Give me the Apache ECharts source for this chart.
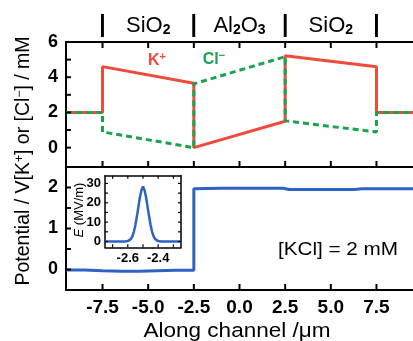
<!DOCTYPE html>
<html>
<head>
<meta charset="utf-8">
<script src="https://cdn.jsdelivr.net/npm/echarts@6/dist/echarts.min.js"></script>
<style>
  html, body { margin: 0; padding: 0; background: #fff; }
  #chart { width: 413px; height: 341px; }
</style>
</head>
<body>
<div id="chart"></div>
<script>
// Ion concentrations along the channel (mM)
const kX = [-9.5, -7.5, -7.5, -2.5, -2.5, 2.5, 2.5, 7.5, 7.5, 9.5];
const kConc = [2, 2, 4.6, 3.66, 0, 1.5, 5.22, 4.6, 2, 2];
const clX = [-9.5, -7.5, -7.5, -2.5, -2.5, 2.5, 2.5, 7.5, 7.5, 9.5];
const clConc = [2, 2, 0.89, 0.0, 3.62, 5.17, 1.52, 0.89, 2, 2];

// Electric potential along the channel (V)
const potX = [-9.5, -8.5, -7.5, -6.5, -5.5, -4.5, -3.5, -2.5, -2.5, -1, 0, 1, 2.4, 2.7, 4, 5.5, 6.3, 6.7, 8, 9.5];
const potV = [-0.01, -0.01, -0.03, -0.04, -0.04, -0.03, -0.02, -0.02, 1.97, 1.98, 1.98, 1.98, 1.98, 1.95, 1.95, 1.95, 1.95, 1.97, 1.97, 1.97];

// Field strength near the SiO2/Al2O3 interface (MV/m)
const eX = [-2.75, -2.62, -2.6, -2.59, -2.58, -2.57, -2.56, -2.55, -2.54, -2.53, -2.52, -2.51, -2.5,
            -2.49, -2.48, -2.47, -2.46, -2.45, -2.44, -2.43, -2.42, -2.41, -2.4, -2.38, -2.25];
const eVal = [0, 0, 0.2, 0.5, 1.2, 2.6, 5, 8.5, 13, 18, 23, 26.5, 28.5,
              26.5, 23, 18, 13, 8.5, 5, 2.6, 1.2, 0.5, 0.2, 0, 0];

// Axis ticks and labels
const xTicks = [-7.5, -5.0, -2.5, 0.0, 2.5, 5.0, 7.5];
const concTicks = [0, 1, 2, 3, 4, 5];
const concLabels = [0, 2, 4, 6];
const potTicks = [0, 0.5, 1, 1.5, 2];
const potLabels = [0, 1, 2];
const eTicks = [0, 5, 10, 15, 20, 25, 30];
const eLabels = [0, 10, 20, 30];
const insetXTicks = [-2.7, -2.6, -2.5, -2.4, -2.3];
const insetXLabels = [-2.6, -2.4];

// Layer labels along the top of the channel
const regionAt = [-7.5, -5.0, -2.5, 0.0, 2.5, 5.0, 7.5];
const regionNames = ['{bar||}', 'SiO{s|2}', '{bar||}', 'Al{s|2}O{s|3}', '{bar||}', 'SiO{s|2}', '{bar||}'];

// Axis ranges
const X_MIN = -9.5, X_MAX = 9.5;
const C_MIN = -1.1, C_MAX = 6;
const P_MIN = -0.5, P_MAX = 2.5;
const IX_MIN = -2.75, IX_MAX = -2.25;
const E_MIN = -3, E_MAX = 34;

const FONT = 'Liberation Sans, Arial, Helvetica, sans-serif';
const RED = '#ee4b3c';
const GREEN = '#1ba24c';
const BLUE = '#2f62c2';

const pairs = (xs, ys) => xs.map((x, i) => [x, ys[i]]);

const frameLine = { show: true, onZero: false, lineStyle: { color: '#000', width: 2 } };
const thinLine = { show: true, onZero: false, lineStyle: { color: '#000', width: 1.5 } };

// Inward tick marks drawn on an axis edge through the cartesian coordinates
function tickSeries(xi, yi, values, edge, dir, len, width) {
  const vertical = dir === 'up' || dir === 'down';
  return {
    type: 'custom', xAxisIndex: xi, yAxisIndex: yi, silent: true, clip: false, z: 10,
    data: values.map(v => vertical ? [v, edge] : [edge, v]),
    renderItem: (params, api) => {
      const p = api.coord([api.value(0), api.value(1)]);
      let dx = 0, dy = 0;
      if (dir === 'up') dy = -len;
      if (dir === 'down') dy = len;
      if (dir === 'right') dx = len;
      if (dir === 'left') dx = -len;
      return {
        type: 'line',
        shape: { x1: p[0], y1: p[1], x2: p[0] + dx, y2: p[1] + dy },
        style: { stroke: '#000', lineWidth: width }
      };
    }
  };
}

function xAxisCfg(gridIndex, position, opts) {
  return Object.assign({
    type: 'value', gridIndex, position, min: X_MIN, max: X_MAX,
    axisLine: frameLine,
    axisTick: { show: false },
    axisLabel: { show: false },
    splitLine: { show: false }
  }, opts || {});
}

const chart = echarts.init(document.getElementById('chart'), null, { renderer: 'canvas' });

chart.setOption({
  animation: false,
  backgroundColor: '#fff',
  grid: [
    { left: 66, top: 42, width: 354.7, height: 125 },
    { left: 66, top: 167, width: 354.7, height: 123 },
    { left: 105, top: 175.7, width: 76, height: 71.6, show: true, backgroundColor: '#fff', borderWidth: 0 }
  ],
  xAxis: [
    xAxisCfg(0, 'bottom'),
    xAxisCfg(0, 'top', {
      axisLabel: {
        show: true, customValues: regionAt, margin: 5,
        formatter: v => regionNames[regionAt.findIndex(r => Math.abs(r - v) < 1e-6)] || '',
        fontFamily: FONT, fontSize: 22, color: '#000',
        rich: {
          s: { fontFamily: FONT, fontSize: 14, fontWeight: 'bold', color: '#000', verticalAlign: 'bottom', padding: [7, 0, 0, 0] },
          bar: { fontFamily: FONT, fontSize: 23, fontWeight: 'bold', color: '#000' }
        }
      }
    }),
    xAxisCfg(1, 'bottom', {
      axisLabel: {
        show: true, customValues: xTicks, margin: 8,
        formatter: v => v.toFixed(1),
        fontFamily: FONT, fontSize: 19, fontWeight: 'bold', color: '#000'
      }
    }),
    xAxisCfg(1, 'top'),
    {
      type: 'value', gridIndex: 2, position: 'bottom', min: IX_MIN, max: IX_MAX,
      axisLine: thinLine,
      axisTick: { show: false },
      axisLabel: {
        show: true, customValues: insetXLabels, margin: 5,
        formatter: v => v.toFixed(1),
        fontFamily: FONT, fontSize: 13, fontWeight: 'bold', color: '#000'
      },
      splitLine: { show: false }
    },
    {
      type: 'value', gridIndex: 2, position: 'top', min: IX_MIN, max: IX_MAX,
      axisLine: thinLine, axisTick: { show: false }, axisLabel: { show: false },
      splitLine: { show: false }
    }
  ],
  yAxis: [
    {
      type: 'value', gridIndex: 0, min: C_MIN, max: C_MAX,
      axisLine: frameLine, axisTick: { show: false },
      axisLabel: { customValues: concLabels, margin: 8, fontFamily: FONT, fontSize: 18, fontWeight: 'bold', color: '#000' },
      splitLine: { show: false }
    },
    {
      type: 'value', gridIndex: 1, min: P_MIN, max: P_MAX,
      axisLine: frameLine, axisTick: { show: false },
      axisLabel: { customValues: potLabels, margin: 8, fontFamily: FONT, fontSize: 18, fontWeight: 'bold', color: '#000' },
      splitLine: { show: false }
    },
    {
      type: 'value', gridIndex: 2, min: E_MIN, max: E_MAX,
      axisLine: thinLine, axisTick: { show: false },
      axisLabel: { customValues: eLabels, margin: 4, fontFamily: FONT, fontSize: 13, fontWeight: 'bold', color: '#000' },
      splitLine: { show: false }
    },
    {
      type: 'value', gridIndex: 2, position: 'right', min: E_MIN, max: E_MAX,
      axisLine: thinLine, axisTick: { show: false }, axisLabel: { show: false },
      splitLine: { show: false }
    }
  ],
  series: [
    {
      name: 'K+', type: 'line', xAxisIndex: 0, yAxisIndex: 0,
      data: pairs(kX, kConc), showSymbol: false, symbol: 'none',
      lineStyle: { color: RED, width: 3 }, z: 3
    },
    {
      name: 'Cl-', type: 'line', xAxisIndex: 0, yAxisIndex: 0,
      data: pairs(clX, clConc), showSymbol: false, symbol: 'none',
      lineStyle: { color: GREEN, width: 3, type: [6, 4] }, z: 4
    },
    {
      name: 'Potential', type: 'line', xAxisIndex: 2, yAxisIndex: 1,
      data: pairs(potX, potV), showSymbol: false, symbol: 'none',
      lineStyle: { color: BLUE, width: 3 }, z: 3
    },
    {
      name: 'E', type: 'line', xAxisIndex: 4, yAxisIndex: 2,
      data: pairs(eX, eVal), showSymbol: false, symbol: 'none',
      lineStyle: { color: BLUE, width: 2.5 }, z: 5
    },
    // frame ticks of the concentration panel
    tickSeries(0, 0, xTicks, C_MAX, 'down', 6, 2),
    tickSeries(0, 0, xTicks, C_MIN, 'up', 6, 2),
    tickSeries(0, 0, concTicks, X_MIN, 'right', 5, 2),
    // frame ticks of the potential panel
    tickSeries(2, 1, xTicks, P_MIN, 'up', 6, 2),
    tickSeries(2, 1, potTicks, X_MIN, 'right', 5, 2),
    // frame ticks of the field inset
    tickSeries(4, 2, insetXTicks, E_MIN, 'up', 3, 1.2),
    tickSeries(4, 2, insetXTicks, E_MAX, 'down', 3, 1.2),
    tickSeries(4, 2, eTicks, IX_MIN, 'right', 3, 1.2),
    tickSeries(4, 2, eTicks, IX_MAX, 'left', 3, 1.2)
  ],
  graphic: [
    {
      type: 'text', x: 24, y: 161, rotation: Math.PI / 2,
      style: {
        text: 'Potential / V[K{sup|+}] or [Cl{sup|−}] / mM',
        fontFamily: FONT, fontSize: 19.5, fill: '#000',
        textAlign: 'center', textVerticalAlign: 'middle',
        rich: { sup: { fontFamily: FONT, fontSize: 12, fill: '#000', verticalAlign: 'top', padding: [0, 0, 8, 0] } }
      }
    },
    {
      type: 'text', x: 157, y: 61,
      style: {
        text: 'K{sup|+}', fontFamily: FONT, fontSize: 16, fontWeight: 'bold', fill: RED,
        textAlign: 'center', textVerticalAlign: 'middle',
        rich: { sup: { fontFamily: FONT, fontSize: 11, fontWeight: 'bold', fill: RED, padding: [0, 0, 9, 0] } }
      }
    },
    {
      type: 'text', x: 214, y: 60,
      style: {
        text: 'Cl{sup|−}', fontFamily: FONT, fontSize: 16, fontWeight: 'bold', fill: GREEN,
        textAlign: 'center', textVerticalAlign: 'middle',
        rich: { sup: { fontFamily: FONT, fontSize: 11, fontWeight: 'bold', fill: GREEN, padding: [0, 0, 9, 0] } }
      }
    },
    {
      type: 'text', x: 338, y: 250, scaleX: 1.15,
      style: {
        text: '[KCl] = 2 mM', fontFamily: FONT, fontSize: 18, fill: '#000',
        textAlign: 'center', textVerticalAlign: 'middle'
      }
    },
    {
      type: 'text', x: 237, y: 331, scaleX: 1.1,
      style: {
        text: 'Along channel /μm', fontFamily: FONT, fontSize: 20.5, fill: '#000',
        textAlign: 'center', textVerticalAlign: 'middle'
      }
    },
    {
      type: 'text', x: 79, y: 210, rotation: Math.PI / 2,
      style: {
        text: '{it|E} (MV/m)', fontFamily: FONT, fontSize: 13, fill: '#000',
        textAlign: 'center', textVerticalAlign: 'middle',
        rich: { it: { fontFamily: FONT, fontSize: 13, fontStyle: 'italic', fill: '#000' } }
      }
    }
  ]
});
</script>
</body>
</html>
